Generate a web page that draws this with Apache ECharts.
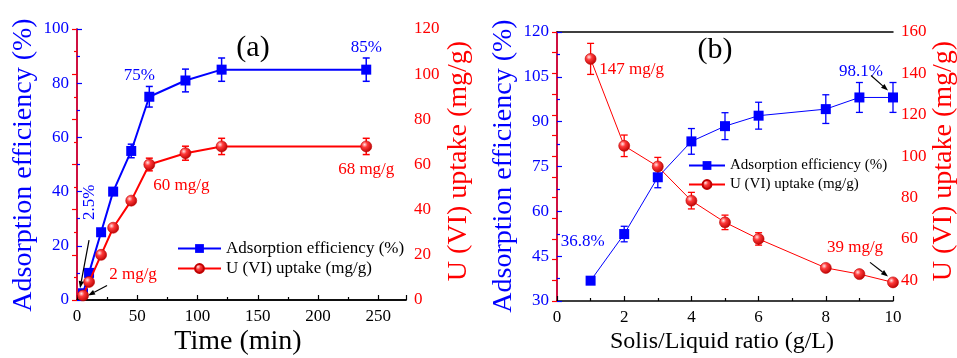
<!DOCTYPE html>
<html>
<head>
<meta charset="utf-8">
<script src="https://cdn.jsdelivr.net/npm/echarts@6/dist/echarts.min.js"></script>
<style>
  html, body { margin: 0; padding: 0; background: #fff; }
  #chart { width: 957px; height: 358px; }
</style>
</head>
<body>
<div id="chart"></div>
<script>
// Panel (a): contact time
const timeMin      = [5, 10, 20, 30, 45, 60, 90, 120, 240];
const effA         = [2.5, 10, 25, 40, 55, 75, 81, 85, 85];
const effAErr      = [0, 0, 0, 0, 2.5, 3.8, 4.2, 4.3, 4.3];
const uptakeA      = [2, 8, 20, 32, 44, 60, 65, 68, 68];
const uptakeAErr   = [0, 0, 0, 0, 0, 2.8, 3.1, 3.6, 3.6];

// Panel (b): solid/liquid ratio
const ratioGL      = [1, 2, 3, 4, 5, 6, 8, 9, 10];
const effB         = [36.8, 52.4, 71.4, 83.4, 88.5, 92, 94.2, 98.1, 98.1];
const effBErr      = [1.2, 2.6, 3.5, 4.3, 4.5, 4.5, 4.8, 5, 5];
const uptakeB      = [147, 105, 95, 78.5, 68, 60, 46, 43, 39];
const uptakeBErr   = [7.5, 5.2, 4.4, 4, 3.5, 3, 1, 1, 1];

// axis titles
const titleEff = 'Adsorption efficiency (%)';
const titleUptake = 'U (VI) uptake (mg/g)';
const titleTime = 'Time (min)';
const titleRatio = 'Solis/Liquid ratio (g/L)';

const legendNames = {
  effA: titleEff, upA: titleUptake,
  effB: titleEff, upB: titleUptake
};

const FONT = 'Liberation Serif';
const BLUE = '#0000ff';
const RED = '#ff0000';

const sphere = {
  type: 'radial', x: 0.36, y: 0.34, r: 0.7,
  colorStops: [
    { offset: 0, color: '#ffe6e6' },
    { offset: 0.35, color: '#ff3a3a' },
    { offset: 1, color: '#b80000' }
  ]
};

function triples(xs, ys, es) { return xs.map((x, i) => [x, ys[i], es[i]]); }

// attach a value label to selected points
function labelled(xs, ys, marks, color, fmt) {
  return xs.map((x, i) => {
    const item = { value: [x, ys[i]] };
    const m = marks[i];
    if (m) {
      item.label = {
        show: true, position: 'inside', offset: m,
        formatter: p => fmt(p.value[1]),
        color: color, fontFamily: FONT, fontSize: 17, fontWeight: 'normal'
      };
    }
    return item;
  });
}

function errorBars(color, width, cap) {
  return function (params, api) {
    const x = api.value(0), y = api.value(1), e = api.value(2);
    if (!e) return null;
    const hi = api.coord([x, y + e]);
    const lo = api.coord([x, y - e]);
    const st = { stroke: color, lineWidth: width };
    return {
      type: 'group',
      children: [
        { type: 'line', shape: { x1: hi[0], y1: hi[1], x2: lo[0], y2: lo[1] }, style: st },
        { type: 'line', shape: { x1: hi[0] - cap, y1: hi[1], x2: hi[0] + cap, y2: hi[1] }, style: st },
        { type: 'line', shape: { x1: lo[0] - cap, y1: lo[1], x2: lo[0] + cap, y2: lo[1] }, style: st }
      ]
    };
  };
}

function valueAxisX(grid, min, max, interval) {
  return {
    gridIndex: grid, type: 'value', position: 'bottom', min, max, interval,
    axisLine: { lineStyle: { color: '#000', width: 1.5 } },
    axisTick: { inside: true, length: 5, lineStyle: { color: '#000', width: 1.2 } },
    minorTick: { show: true, splitNumber: 2, length: 3, lineStyle: { color: '#000', width: 1.2 } },
    axisLabel: { color: '#000', fontFamily: FONT, fontSize: 17, margin: 8, showMaxLabel: max % interval === 0 },
    splitLine: { show: false }
  };
}
function topAxis(grid, min, max) {
  return {
    gridIndex: grid, type: 'value', position: 'top', min, max,
    axisLine: { lineStyle: { color: '#000', width: 1.5 } },
    axisTick: { show: false }, axisLabel: { show: false }, splitLine: { show: false }
  };
}
function valueAxisY(grid, pos, color, min, max, interval, minor, fmt) {
  return {
    gridIndex: grid, type: 'value', position: pos, min, max, interval,
    axisLine: { show: true, lineStyle: { color, width: 1.5 } },
    axisTick: { show: true, inside: true, length: 5, lineStyle: { color, width: 1.2 } },
    minorTick: { show: minor, splitNumber: 2, length: 3, lineStyle: { color, width: 1.2 } },
    axisLabel: { color, fontFamily: FONT, fontSize: 17, margin: 8, formatter: fmt },
    splitLine: { show: false }
  };
}

const option = {
  backgroundColor: '#fff',
  animation: false,
  textStyle: { fontFamily: FONT, fontWeight: 'normal' },
  grid: [
    { left: 77, top: 29, width: 329, height: 271 },
    { left: 557, top: 32, width: 336, height: 269 }
  ],
  xAxis: [
    valueAxisX(0, 0, 273, 50),
    topAxis(0, 0, 273),
    valueAxisX(1, 0, 10, 2),
    topAxis(1, 0, 10)
  ],
  yAxis: [
    valueAxisY(0, 'left', BLUE, 0, 100, 20, true),
    valueAxisY(0, 'right', RED, 0, 120, 20, true),
    valueAxisY(1, 'left', BLUE, 30, 120, 15, true),
    valueAxisY(1, 'right', RED, 30, 160, 10, false, v => (v % 20 === 0 ? String(v) : ''))
  ],
  legend: [
    {
      left: 172, top: 235, orient: 'vertical', itemWidth: 43, itemHeight: 11, itemGap: 3,
      selectedMode: false, data: ['effA', 'upA'], formatter: n => legendNames[n],
      textStyle: { color: '#000', fontFamily: FONT, fontSize: 17 }
    },
    {
      left: 683, top: 153, orient: 'vertical', itemWidth: 36, itemHeight: 11, itemGap: 4,
      selectedMode: false, data: ['effB', 'upB'], formatter: n => legendNames[n],
      textStyle: { color: '#000', fontFamily: FONT, fontSize: 15 }
    }
  ],
  series: [
    // ---- panel (a)
    {
      type: 'custom', xAxisIndex: 0, yAxisIndex: 0, z: 2,
      renderItem: errorBars(BLUE, 1.5, 3.5), data: triples(timeMin, effA, effAErr)
    },
    {
      type: 'custom', xAxisIndex: 0, yAxisIndex: 1, z: 2,
      renderItem: errorBars(RED, 1.5, 3.5), data: triples(timeMin, uptakeA, uptakeAErr)
    },
    {
      name: 'effA', type: 'line', xAxisIndex: 0, yAxisIndex: 0, z: 3,
      symbol: 'rect', symbolSize: 10,
      lineStyle: { color: BLUE, width: 2 }, itemStyle: { color: BLUE },
      data: labelled(timeMin, effA,
        [null, null, null, null, null, [-10, -21], null, null, [0, -22]],
        BLUE, v => v + '%')
    },
    {
      name: 'upA', type: 'line', xAxisIndex: 0, yAxisIndex: 1, z: 4,
      symbol: 'circle', symbolSize: 11,
      lineStyle: { color: RED, width: 2 },
      itemStyle: { color: sphere, borderColor: '#c00000', borderWidth: 0.6 },
      data: labelled(timeMin, uptakeA,
        [[50, -21], null, null, null, null, [32, 21], null, null, [0, 23]],
        RED, v => v + ' mg/g')
    },
    // ---- panel (b)
    {
      type: 'custom', xAxisIndex: 2, yAxisIndex: 2, z: 2,
      renderItem: errorBars(BLUE, 1.3, 3.5), data: triples(ratioGL, effB, effBErr)
    },
    {
      type: 'custom', xAxisIndex: 2, yAxisIndex: 3, z: 2,
      renderItem: errorBars(RED, 1.3, 3.5), data: triples(ratioGL, uptakeB, uptakeBErr)
    },
    {
      name: 'effB', type: 'line', xAxisIndex: 2, yAxisIndex: 2, z: 3,
      symbol: 'rect', symbolSize: 10,
      lineStyle: { color: BLUE, width: 1 }, itemStyle: { color: BLUE },
      data: labelled(ratioGL, effB,
        [[-8, -39], null, null, null, null, null, null, null, [-32, -26]],
        BLUE, v => v + '%')
    },
    {
      name: 'upB', type: 'line', xAxisIndex: 2, yAxisIndex: 3, z: 4,
      symbol: 'circle', symbolSize: 11,
      lineStyle: { color: RED, width: 1 },
      itemStyle: { color: sphere, borderColor: '#c00000', borderWidth: 0.6 },
      data: labelled(ratioGL, uptakeB,
        [[41, 11], null, null, null, null, null, null, null, [-38, -35]],
        RED, v => v + ' mg/g')
    }
  ]
};

const chart = echarts.init(document.getElementById('chart'));
chart.setOption(option);

// annotations: axis titles, panel tags, the rotated 2.5% label and the pointer arrows
function px(xi, yi, pt) {
  return chart.convertToPixel({ xAxisIndex: xi, yAxisIndex: yi }, pt);
}
function arrow(tail, head) {
  const dx = head[0] - tail[0], dy = head[1] - tail[1];
  const L = Math.hypot(dx, dy), ux = dx / L, uy = dy / L;
  const hl = 7, hw = 2.6;
  const bx = head[0] - ux * hl, by = head[1] - uy * hl;
  return [
    { type: 'line', z: 20, shape: { x1: tail[0], y1: tail[1], x2: bx, y2: by },
      style: { stroke: '#000', lineWidth: 1.2 } },
    { type: 'polygon', z: 20,
      shape: { points: [head, [bx - uy * hw, by + ux * hw], [bx + uy * hw, by - ux * hw]] },
      style: { fill: '#000' } }
  ];
}
function shift(p, d) { return [p[0] + d[0], p[1] + d[1]]; }
function label(text, x, y, size, color, vertical) {
  return {
    type: 'text', x, y, z: 20, rotation: vertical ? Math.PI / 2 : 0,
    style: { text, fontFamily: FONT, fontSize: size, fill: color, align: 'center', verticalAlign: 'middle' }
  };
}

const pEffA0 = px(0, 0, [timeMin[0], effA[0]]);
const pUpA0 = px(0, 1, [timeMin[0], uptakeA[0]]);
const pEffBEnd = px(2, 2, [ratioGL[8], effB[8]]);
const pUpBEnd = px(2, 3, [ratioGL[8], uptakeB[8]]);

const graphics = [
  label(titleEff, 24, 165, 28, BLUE, true),
  label(titleUptake, 459, 161, 28, RED, true),
  label(titleTime, 238, 342, 28, '#000', false),
  label(titleEff, 504, 166, 28, BLUE, true),
  label(titleUptake, 944, 161, 28, RED, true),
  label(titleRatio, 722, 342, 24, '#000', false),
  label('(a)', 253, 48, 30, '#000', false),
  label('(b)', 715, 50, 30, '#000', false),
  label(effA[0] + '%', pEffA0[0] + 7, pEffA0[1] - 91, 17, BLUE, true)
].concat(
  arrow(shift(pEffA0, [6, -53]), shift(pEffA0, [-3, -5])),
  arrow(shift(pUpA0, [24, -10]), shift(pUpA0, [5, 0])),
  arrow(shift(pEffBEnd, [-22, -22]), shift(pEffBEnd, [-5, -7])),
  arrow(shift(pUpBEnd, [-23, -20]), shift(pUpBEnd, [-5, -6]))
);
chart.setOption({ graphic: graphics });
</script>
</body>
</html>
